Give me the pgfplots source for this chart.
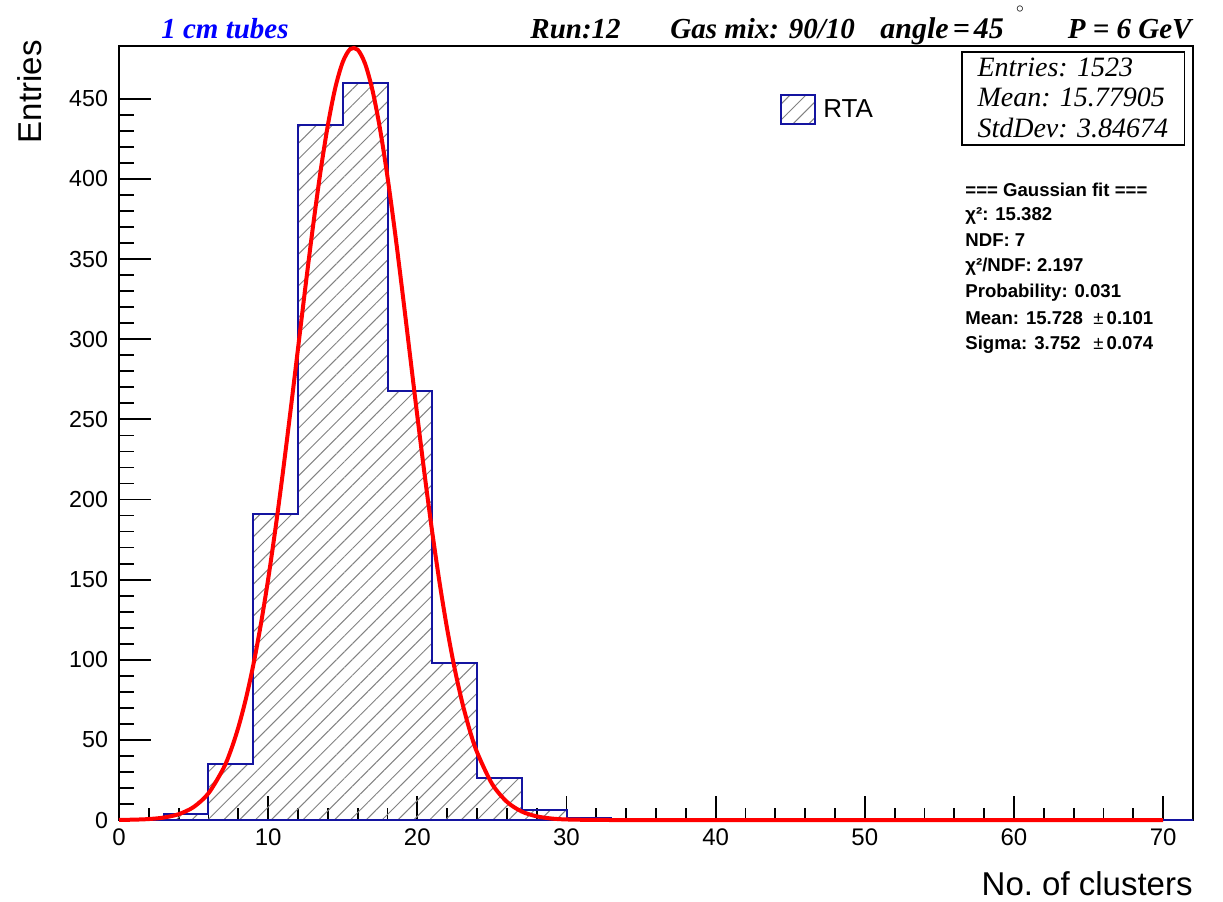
\documentclass[border=0pt]{standalone}
\usepackage{fontspec}
\setmainfont{Liberation Sans}
\newfontfamily\tms{Liberation Serif}
\usepackage{pgfplots}
\pgfplotsset{compat=1.18}
\usetikzlibrary{patterns.meta}
\definecolor{histblue}{RGB}{20,20,160}
\definecolor{hatchgray}{RGB}{130,130,130}
\begin{document}
\begin{tikzpicture}
\begin{axis}[
  scale only axis, width=537pt, height=387pt,
  xmin=0, xmax=72, ymin=0, ymax=483,
  axis line style={line width=1pt},
  tick align=inside, tick pos=left,
  xtick={0,10,...,70}, minor x tick num=4,
  ytick={0,50,...,450}, minor y tick num=4,
  tick style={black, line width=0.9pt},
  x tick style={/pgfplots/major tick length=12pt, /pgfplots/minor tick length=6pt},
  y tick style={/pgfplots/major tick length=16pt, /pgfplots/minor tick length=7.5pt},
  tick label style={font=\fontsize{12}{14}\selectfont},
  xticklabel style={font=\fontsize{12}{14}\selectfont, yshift=-1pt},
  yticklabel style={font=\fontsize{11.6}{14}\selectfont, xshift=-2pt},
  /pgf/number format/assume math mode=true,
  scaled ticks=false,
  clip=false,
]
\addplot[const plot, draw=histblue, line width=1pt,
  pattern={Lines[angle=45,distance=5.6pt,line width=0.5pt]}, pattern color=hatchgray]
  coordinates {(0,0)(3,4)(6,35)(9,191)(12,434)(15,460)(18,268)(21,98)(24,26)(27,6)(30,1)(33,0)(72,0)} \closedcycle;
\addplot[red, line width=2pt, smooth] coordinates {
(0,0.07)(1,0.22)(2,0.60)(3,1.53)(4,3.64)(5,8.08)(6,16.7)(7,32.2)(7.5,43.5)(8,57.8)(8.5,75.4)(9,96.6)(9.5,121.6)(10,150.3)(10.5,182.6)(11,217.9)(11.5,255.5)(12,294.2)(12.5,332.9)(13,370.0)(13.5,404.1)(14,433.5)(14.5,456.9)(15,473.0)(15.5,481.1)(16,480.7)(16.5,471.9)(17,455.1)(17.5,431.2)(18,401.3)(18.5,366.9)(19,329.5)(19.5,290.8)(20,252.1)(20.5,214.7)(21,179.6)(21.5,147.6)(22,119.2)(22.5,94.6)(23,73.7)(23.5,56.4)(24,42.4)(25,22.7)(26,11.4)(27,5.29)(28,2.29)(29,0.92)(30,0.35)(32,0.04)(35,0)(40,0)(50,0)(60,0)(70,0)};
% legend
\draw[draw=histblue, line width=0.8pt, pattern={Lines[angle=45,distance=5.6pt,line width=0.5pt]}, pattern color=hatchgray]
  (rel axis cs:0.6164,0.9367) rectangle (rel axis cs:0.6480,0.8992);
\node[anchor=west, font=\fontsize{13}{15}\selectfont, inner sep=0pt] at (rel axis cs:0.6555,0.9186) {RTA};
% titles
\node[anchor=base, font=\tms\bfseries\itshape\fontsize{14.5}{16}\selectfont, text=blue, inner sep=0pt] at (rel axis cs:0.0987,1.0103) {1 cm tubes};
\node[anchor=base west, font=\tms\bfseries\itshape\fontsize{14.5}{16}\selectfont, inner sep=0pt] at (rel axis cs:0.3827,1.0103) {Run:12};
\node[anchor=base west, font=\tms\bfseries\itshape\fontsize{14.5}{16}\selectfont, inner sep=0pt] at (rel axis cs:0.513,1.0103) {Gas mix: 90/10};
\node[anchor=base west, font=\tms\bfseries\itshape\fontsize{15}{17}\selectfont, inner sep=0pt] at (rel axis cs:0.7086,1.0103) {angle\kern2pt=\kern2pt45\hspace{6pt}\raisebox{13pt}{\fontsize{7}{7}\selectfont$\circ$}};
\node[anchor=base east, font=\tms\bfseries\itshape\fontsize{14.5}{16}\selectfont, inner sep=0pt] at (rel axis cs:0.999,1.0103) {P = 6 GeV};
% stats box
\draw[line width=0.8pt, fill=white] (rel axis cs:0.785,0.9922) rectangle (rel axis cs:0.992,0.872);
\node[anchor=base west, font=\tms\itshape\fontsize{14}{16}\selectfont, inner sep=0pt] at (rel axis cs:0.799,0.960) {Entries: 1523};
\node[anchor=base west, font=\tms\itshape\fontsize{14}{16}\selectfont, inner sep=0pt] at (rel axis cs:0.799,0.9212) {Mean: 15.77905};
\node[anchor=base west, font=\tms\itshape\fontsize{14}{16}\selectfont, inner sep=0pt] at (rel axis cs:0.799,0.8824) {StdDev: 3.84674};
% fit text
\node[anchor=base west, font=\bfseries\fontsize{9.3}{11}\selectfont, inner sep=0pt] at (rel axis cs:0.7877,0.806) {=== Gaussian fit ===};
\node[anchor=base west, font=\bfseries\fontsize{9.3}{11}\selectfont, inner sep=0pt] at (rel axis cs:0.7877,0.774) {χ²: 15.382};
\node[anchor=base west, font=\bfseries\fontsize{9.3}{11}\selectfont, inner sep=0pt] at (rel axis cs:0.7877,0.7416) {NDF: 7};
\node[anchor=base west, font=\bfseries\fontsize{9.3}{11}\selectfont, inner sep=0pt] at (rel axis cs:0.7877,0.7093) {χ²/NDF: 2.197};
\node[anchor=base west, font=\bfseries\fontsize{9.3}{11}\selectfont, inner sep=0pt] at (rel axis cs:0.7877,0.6757) {Probability: 0.031};
\node[anchor=base west, font=\bfseries\fontsize{9.3}{11}\selectfont, inner sep=0pt] at (rel axis cs:0.7877,0.6408) {Mean: 15.728};
\node[anchor=base west, font=\bfseries\fontsize{9.3}{11}\selectfont, inner sep=0pt] at (rel axis cs:0.7877,0.6085) {Sigma: 3.752};
\node[anchor=base west, font=\bfseries\fontsize{9.3}{11}\selectfont, inner sep=0pt] at (rel axis cs:0.9069,0.6408) {{\mdseries ±}\,0.101};
\node[anchor=base west, font=\bfseries\fontsize{9.3}{11}\selectfont, inner sep=0pt] at (rel axis cs:0.9069,0.6085) {{\mdseries ±}\,0.074};
% axis titles
\node[rotate=90, anchor=base east, font=\fontsize{16.5}{18}\selectfont, inner sep=0pt] at ([xshift=-38.5pt,yshift=3pt]rel axis cs:0,1) {Entries};
\node[anchor=base east, font=\fontsize{16.5}{18}\selectfont, inner sep=0pt] at ([yshift=-37.5pt]rel axis cs:1,0) {No.\ of clusters};
\coordinate (ll) at (rel axis cs:0,0);
\coordinate (ur) at (rel axis cs:1,1);
\end{axis}
\pgfresetboundingbox
\path[use as bounding box] ([xshift=-59.5pt,yshift=-40.5pt]ll) rectangle ([xshift=15pt,yshift=23pt]ur);
\end{tikzpicture}
\end{document}
